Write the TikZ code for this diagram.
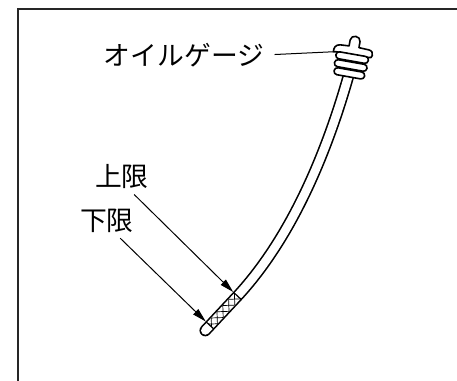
\documentclass[tikz,border=0pt]{standalone}
\usepackage{fontspec}
\newfontfamily\jpfont{Noto Sans CJK JP}
\usetikzlibrary{arrows.meta}

\begin{document}
\begin{tikzpicture}[x=0.5pt, y=-0.5pt,
  label/.style={font=\jpfont\fontsize{13.4}{15}\selectfont, inner sep=0pt},
  frame/.style={line width=0.9pt, black!85},
  part/.style={draw=black, line width=0.8pt, fill=white, line join=round},
  stick/.style={draw=black, line width=0.8pt, double=white,
                double distance=4.25pt, line cap=round},
  hatch/.style={line width=0.35pt},
  limit/.style={line width=0.6pt},
  leader/.style={line width=0.5pt, shorten <=5pt},
  pointer/.style={line width=0.5pt, -{Triangle[length=7pt,width=3.6pt]}},
]
  \useasboundingbox (0,0) rectangle (457,381);

  % Frame
  \draw[frame] (18,381) -- (18,9) -- (457,9);

  % Gauge rod
  \draw[stick] (349,74) .. controls (327,152) and (292,237) .. (237.5,296)
    -- (205.3,330.5);

  % Marked band at the tip
  \begin{scope}[shift={(237.5,296)}, rotate=227]
    \begin{scope}
      \clip (0,-4.25) rectangle (40.3,4.25);
      \foreach \s in {-8.5,0,...,45} {
        \draw[hatch] (\s,-4.25) -- ++(8.5,8.5);
        \draw[hatch] (\s,4.25) -- ++(8.5,-8.5);
      }
    \end{scope}
    \draw[limit] (0,-5) -- (0,5);
    \draw[limit] (40.3,-5) -- (40.3,5);
    \coordinate (upper) at (0,5.8);
    \coordinate (lower) at (40.3,5.8);
  \end{scope}

  % Handle
  \begin{scope}[shift={(351,64)}, rotate=-10]
    \draw[part] (-19.5,-9) .. controls (-20,-13) and (-18.5,-16.5) .. (-14,-17)
      -- (-5,-17.5) -- (-5,-23.5) .. controls (-5,-29.5) and (5,-29.5) .. (5,-23.5)
      -- (5,-17.5) -- (15,-17) .. controls (18.5,-16.8) and (19.5,-15) .. (19.5,-12)
      .. controls (19.5,-9.5) and (18,-9.5) .. (16,-9.5) -- (-17,-9.5) -- cycle;
    \draw[part, rounded corners=1.7pt] (-16.5,-10) rectangle (16.5,-3);
    \draw[part, rounded corners=1.7pt] (-16.5,-2) rectangle (16.5,5);
    \draw[part, rounded corners=1.7pt] (-15.5,6) rectangle (15.5,13);
    \coordinate (hook) at (-19.5,-9);
  \end{scope}

  % Labels
  \node[label] (gauge) at (184,55) {オイルゲージ};
  \node[label] (upperlbl) at (122,177) {上限};
  \node[label] (lowerlbl) at (107,221) {下限};

  \draw[leader] (gauge.east) -- (hook);
  \draw[pointer] ([xshift=-7.5pt,yshift=-2.5pt]upperlbl.south east) -- (upper);
  \draw[pointer] ([xshift=-7pt,yshift=-2.5pt]lowerlbl.south east) -- (lower);
\end{tikzpicture}
\end{document}
